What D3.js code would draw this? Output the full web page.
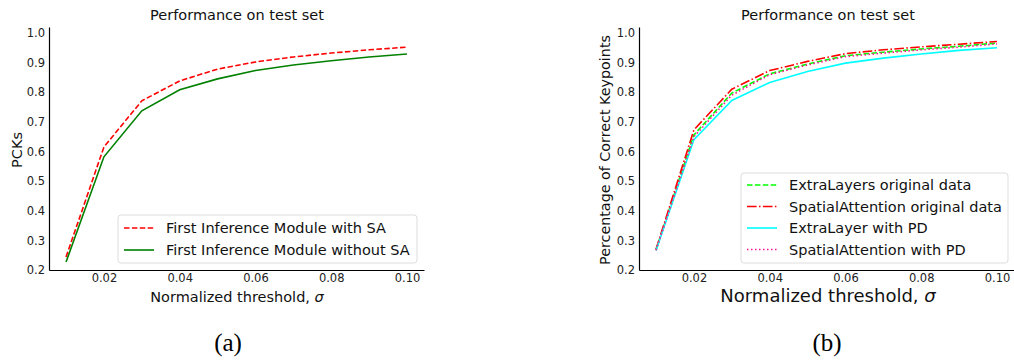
<!DOCTYPE html>
<html>
<head>
<meta charset="utf-8">
<script src="https://cdn.jsdelivr.net/npm/d3@7/dist/d3.min.js"></script>
<style>
  body { margin: 0; background: #fff; }
  svg { display: block; font-family: "DejaVu Sans", sans-serif; }
  .tick text { font-size: 11.5px; fill: #222; }
  .domain { stroke: #000; stroke-width: 1.2; }
</style>
</head>
<body>
<svg id="fig" width="1014" height="361"></svg>
<script>
// thresholds shared by both panels
var thresholds = [0.01, 0.02, 0.03, 0.04, 0.05, 0.06, 0.07, 0.08, 0.09, 0.10];
var xTicks = [0.02, 0.04, 0.06, 0.08, 0.10];
var yTicks = [0.2, 0.3, 0.4, 0.5, 0.6, 0.7, 0.8, 0.9, 1.0];

// panel (a)
var withSA    = [0.244, 0.615, 0.771, 0.838, 0.878, 0.902, 0.919, 0.932, 0.943, 0.952];
var withoutSA = [0.227, 0.582, 0.737, 0.808, 0.845, 0.873, 0.892, 0.906, 0.919, 0.929];

// panel (b)
var extraOrig   = [0.268, 0.656, 0.797, 0.862, 0.895, 0.923, 0.935, 0.946, 0.955, 0.966];
var spatialOrig = [0.270, 0.673, 0.810, 0.873, 0.904, 0.930, 0.943, 0.953, 0.962, 0.971];
var extraPD     = [0.266, 0.640, 0.772, 0.833, 0.870, 0.898, 0.915, 0.929, 0.941, 0.950];
var spatialPD   = [0.267, 0.650, 0.790, 0.859, 0.892, 0.920, 0.932, 0.943, 0.952, 0.963];

var svg = d3.select("#fig");

function panel(opts) {
  var x = d3.scaleLinear().domain([0.0055, 0.1045]).range([opts.left, opts.right]);
  var y = d3.scaleLinear().domain([0.2, 1.02]).range([270, 27]);
  var g = svg.append("g");

  g.append("g")
      .attr("transform", "translate(0,270)")
      .call(d3.axisBottom(x).tickValues(xTicks).tickSize(0).tickPadding(4).tickFormat(d3.format(".2f")));

  g.append("g")
      .attr("transform", "translate(" + opts.left + ",0)")
      .call(d3.axisLeft(y).tickValues(yTicks).tickSize(0).tickPadding(4).tickFormat(d3.format(".1f")));

  g.selectAll(".tick text").attr("font-family", "DejaVu Sans");

  var line = d3.line()
      .x(function(d, i) { return x(thresholds[i]); })
      .y(function(d) { return y(d); });

  opts.series.forEach(function(s) {
    g.append("path")
        .datum(s.values)
        .attr("fill", "none")
        .attr("stroke", s.color)
        .attr("stroke-width", 1.6)
        .attr("stroke-dasharray", s.dash)
        .attr("d", line);
  });

  g.append("text")
      .attr("x", opts.titleX)
      .attr("y", 20)
      .attr("text-anchor", "middle")
      .attr("font-size", 14.5)
      .attr("fill", "#111")
      .text("Performance on test set");

  g.append("text")
      .attr("transform", "translate(" + opts.ylabX + "," + opts.ylabY + ") rotate(-90)")
      .attr("text-anchor", "middle")
      .attr("font-size", opts.ylabSize)
      .attr("fill", "#111")
      .text(opts.ylabel);

  var xl = g.append("text")
      .attr("x", opts.titleX)
      .attr("y", 302)
      .attr("text-anchor", "middle")
      .attr("font-size", opts.xlabSize)
      .attr("fill", "#111");
  xl.append("tspan").text("Normalized threshold, ");
  xl.append("tspan").attr("font-style", "italic").text("σ");

  // legend
  var lg = opts.legend;
  g.append("rect")
      .attr("x", lg.x).attr("y", lg.y)
      .attr("width", lg.w).attr("height", lg.h)
      .attr("rx", 3)
      .attr("fill", "#fff").attr("fill-opacity", 0.8)
      .attr("stroke", "#ddd");

  var item = g.selectAll(".item" + opts.id)
    .data(opts.series)
    .enter().append("g")
      .attr("transform", function(d, i) { return "translate(" + (lg.x + 6) + "," + (lg.y + lg.first + i * lg.step) + ")"; });

  item.append("line")
      .attr("x1", 0).attr("x2", 30)
      .attr("stroke", function(d) { return d.color; })
      .attr("stroke-width", 1.6)
      .attr("stroke-dasharray", function(d) { return d.dash; });

  item.append("text")
      .attr("x", 42)
      .attr("dy", "0.35em")
      .attr("font-size", 14.5)
      .attr("fill", "#111")
      .text(function(d) { return d.name; });
}

panel({
  id: "a", left: 49, right: 424, titleX: 237,
  ylabel: "PCKs", ylabX: 22, ylabY: 150, ylabSize: 14.5, xlabSize: 14.5,
  legend: {x: 118, y: 215, w: 299, h: 48, first: 13, step: 22},
  series: [
    {name: "First Inference Module with SA", values: withSA, color: "#ff0000", dash: "5.5,2.4"},
    {name: "First Inference Module without SA", values: withoutSA, color: "#008000", dash: null}
  ]
});

panel({
  id: "b", left: 639, right: 1014, titleX: 828,
  ylabel: "Percentage of Correct Keypoints", ylabX: 610, ylabY: 150, ylabSize: 14.3, xlabSize: 18,
  legend: {x: 741, y: 173, w: 267, h: 90, first: 12, step: 21.5},
  series: [
    {name: "ExtraLayers original data", values: extraOrig, color: "#00ff00", dash: "5.5,2.4"},
    {name: "SpatialAttention original data", values: spatialOrig, color: "#ff0000", dash: "9.6,2.4,1.5,2.4"},
    {name: "ExtraLayer with PD", values: extraPD, color: "#00ffff", dash: null},
    {name: "SpatialAttention with PD", values: spatialPD, color: "#ff1493", dash: "1.5,2.5"}
  ]
});

svg.append("text").attr("x", 228).attr("y", 351).attr("text-anchor", "middle")
    .attr("font-family", "Liberation Serif, serif").attr("font-size", 25).text("(a)");
svg.append("text").attr("x", 827).attr("y", 351).attr("text-anchor", "middle")
    .attr("font-family", "Liberation Serif, serif").attr("font-size", 25).text("(b)");
</script>
</body>
</html>
